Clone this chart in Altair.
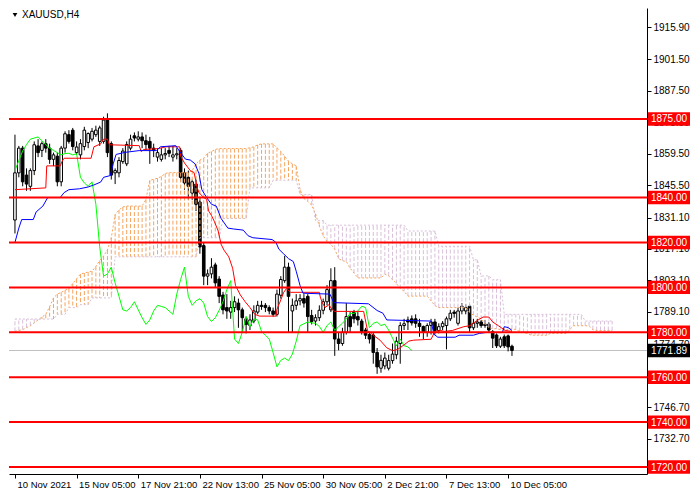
"""XAUUSD H4 in the MT4 style: candles, Ichimoku and support/resistance lines."""

import altair as alt
import pandas as pd

# ------------------------------------------------------------------ styling
FONT = "Liberation Sans"
INK = "#000000"
LEVEL_RED = "#ff0000"
SANDY = "#f4a460"      # Senkou span A / bullish cloud
THISTLE = "#d8bfd8"    # Senkou span B / bearish cloud
W, H = 638, 466

# ------------------------------------------------------------------ axes
DATE_TICKS = [0, 16, 32, 48, 64, 80, 96, 112, 128]
DATE_LABELS = ["10 Nov 2021", "15 Nov 05:00", "17 Nov 21:00", "22 Nov 13:00",
               "25 Nov 05:00", "30 Nov 05:00", "2 Dec 21:00", "7 Dec 13:00",
               "10 Dec 05:00"]
PRICE_TICKS = [1915.90, 1901.50, 1887.50, 1873.50, 1859.50, 1845.50, 1831.10,
               1817.10, 1803.10, 1789.10, 1774.70, 1760.70, 1746.70, 1732.70,
               1718.70]
LEVELS = [1875.0, 1840.0, 1820.0, 1800.0, 1780.0, 1760.0, 1740.0, 1720.0]
LAST_PRICE = [1771.89]
SYMBOL = ["XAUUSD,H4"]

# ------------------------------------------------------------------ candles (H4 bars 0..129)
OPEN = [1830, 1851, 1862, 1850, 1845, 1852, 1863, 1861, 1864, 1862,
        1857, 1858.4, 1847, 1862, 1868, 1870, 1860, 1859, 1862.7, 1864.5,
        1866, 1868, 1865, 1865, 1874.5, 1864, 1851, 1851, 1856, 1855,
        1862, 1867.5, 1866, 1867, 1865.3, 1865, 1862, 1858, 1857, 1859,
        1861, 1858, 1859, 1861, 1851, 1849, 1842, 1846, 1838, 1818.6,
        1805, 1806, 1810, 1803.7, 1796.6, 1791, 1789, 1791, 1793, 1790,
        1786, 1783, 1785, 1789, 1792, 1792, 1791, 1789.5, 1788, 1796.5,
        1803, 1809, 1789.5, 1792, 1794, 1795, 1796, 1787.5, 1785, 1786.5,
        1789.8, 1793.6, 1790, 1803, 1777, 1775, 1780, 1787, 1789, 1787,
        1785, 1781, 1779, 1778.8, 1771, 1764, 1765, 1764, 1767.4, 1770,
        1775, 1783, 1785.5, 1786, 1786, 1784, 1782.6, 1780, 1783, 1784.6,
        1780.8, 1782.5, 1783, 1786, 1789, 1784, 1789.5, 1789.5, 1791.6, 1782,
        1784, 1784.6, 1783, 1783.6, 1780.3, 1778.8, 1773.8, 1778, 1778.4, 1773.8]
HIGH = [1868, 1863, 1863, 1853, 1853, 1865, 1866, 1865, 1866, 1864,
        1860, 1860, 1863, 1869.5, 1870, 1871, 1865, 1866, 1871.5, 1869,
        1871, 1872, 1872, 1876, 1877.5, 1865, 1853, 1858, 1862, 1865,
        1868, 1869, 1869.5, 1869, 1868, 1867, 1864, 1862, 1862, 1862,
        1863, 1863, 1862, 1862, 1853, 1852, 1848, 1848, 1840, 1820,
        1808, 1813, 1811, 1805, 1798, 1797, 1794, 1796, 1795, 1791,
        1787, 1788, 1792, 1794, 1794, 1793, 1792, 1791, 1799, 1805,
        1814, 1811, 1795, 1797, 1797, 1797, 1797, 1790, 1788, 1792,
        1795, 1801, 1808.5, 1809, 1780, 1782, 1793, 1789, 1790, 1789,
        1786, 1782, 1780, 1780, 1773, 1770, 1771, 1770, 1775, 1778,
        1784.5, 1786, 1787, 1787.5, 1788, 1786, 1783, 1784, 1786, 1786,
        1784, 1785, 1787, 1790, 1790, 1791, 1793, 1792.5, 1792.5, 1786,
        1786, 1785.5, 1785.5, 1784.5, 1781, 1779.5, 1778, 1779, 1779, 1774.5]
LOW = [1824, 1849, 1845, 1843, 1843, 1850, 1858, 1858, 1860, 1855,
       1854, 1845, 1845, 1860, 1864, 1861, 1859, 1857, 1861, 1862,
       1865, 1867, 1863, 1864, 1858, 1848, 1846, 1849, 1855, 1854,
       1861, 1865, 1865, 1862, 1861, 1855, 1858, 1856, 1856, 1857,
       1858, 1856, 1857, 1847, 1843.5, 1839, 1839, 1834, 1815, 1801,
       1801, 1804, 1800, 1793, 1788, 1786, 1786, 1789, 1782, 1780,
       1779.5, 1781, 1784, 1788, 1790, 1789, 1788, 1787, 1787, 1795,
       1802, 1780, 1780, 1790, 1792, 1791, 1780, 1783.5, 1783, 1785,
       1788, 1792, 1789, 1769.5, 1772, 1774, 1779, 1780, 1784, 1783,
       1779, 1777, 1775, 1766, 1761.5, 1762, 1763.5, 1763, 1766, 1768,
       1766, 1781, 1781, 1783, 1782, 1778, 1777, 1778, 1779, 1779,
       1779.5, 1781, 1772.4, 1785, 1786.5, 1783, 1788, 1788, 1780, 1781,
       1782, 1782, 1782, 1780, 1773, 1773, 1773, 1773, 1771.5, 1769.5]
CLOSE = [1851, 1862, 1847, 1846, 1852, 1863.5, 1860, 1864, 1862, 1857,
         1859, 1847, 1862, 1868.4, 1865, 1862.7, 1862.5, 1864, 1870, 1868.5,
         1869.5, 1870, 1871, 1874.5, 1860, 1850, 1852, 1856.5, 1860.7, 1863.6,
         1866, 1866.5, 1867, 1865.3, 1863.6, 1862, 1861, 1860, 1859, 1859.6,
         1859.7, 1859, 1859.5, 1849, 1846.5, 1845, 1847, 1837, 1818, 1805,
         1806, 1809, 1802, 1796, 1790, 1789.5, 1791, 1793.6, 1790, 1786.5,
         1783.5, 1785.5, 1789.5, 1792, 1791.5, 1791, 1789.5, 1788, 1797, 1803.5,
         1809, 1796, 1792, 1794, 1795, 1793, 1787, 1784.8, 1786.5, 1789.8,
         1793.6, 1799, 1803, 1777, 1775, 1780, 1787, 1782.5, 1786, 1785.5,
         1780.4, 1778.7, 1777, 1771, 1764.6, 1767.5, 1768.5, 1767.4, 1770.3, 1776,
         1783, 1783.8, 1784.6, 1784.2, 1784, 1782.6, 1780, 1783, 1784.6, 1780.8,
         1782.5, 1784, 1786, 1788.5, 1788.4, 1789.5, 1791.6, 1791, 1782, 1784,
         1784.6, 1783, 1783.6, 1781, 1777.4, 1774, 1777, 1774, 1773.5, 1771.89]

# ------------------------------------------------------------------ Ichimoku
# Tenkan-sen and Kijun-sen corners, (bar, price)
TENKAN_BAR = [0, 8, 8.25, 11.75, 12.25, 12.75, 19.75, 20.5, 22.25, 23, 24, 24.5,
              32.25, 32.75, 33.5, 37.25, 39.25, 42.75, 43, 44, 45.5, 46.5, 47.25,
              47.75, 49, 49.75, 50.25, 51, 51.75, 52.75, 53.5, 54.25, 55.5, 56.5,
              57.25, 58.5, 59.75, 61, 62.25, 63.5, 67.75, 68, 69, 69.75, 70.5,
              71.5, 79, 79.25, 79.75, 80.5, 81.5, 82.25, 83, 90.5, 91.5, 93, 94.75,
              96.5, 98, 99.25, 101, 102.25, 103.5, 108, 109, 110.5, 111.5, 113.5,
              116.5, 118, 119.75, 121.5, 123, 124, 125.5, 127.25, 129]
TENKAN = [1843.5, 1844.3, 1854.1, 1854.1, 1856.2, 1857.5, 1857.5, 1862.6, 1863.9,
          1866.0, 1866.0, 1863.5, 1863.1, 1860.5, 1861.4, 1861.8, 1862.6, 1862.6,
          1858.4, 1855.4, 1852.0, 1851.1, 1844.7, 1842.2, 1840.0, 1839.2, 1834.1,
          1832.0, 1829.4, 1825.1, 1819.2, 1816.6, 1813.6, 1808.5, 1800.8, 1796.6,
          1793.6, 1791.0, 1788.0, 1787.2, 1787.2, 1790.2, 1794.4, 1797.8, 1799.5,
          1797.8, 1797.8, 1795.7, 1793.2, 1791.0, 1792.3, 1790.2, 1789.3, 1789.3,
          1780.8, 1778.7, 1776.5, 1773.1, 1771.8, 1772.3, 1774.4, 1776.1, 1776.5,
          1776.9, 1780.4, 1780.8, 1780.4, 1780.8, 1782.5, 1782.9, 1785.0, 1786.8,
          1786.8, 1784.6, 1782.9, 1780.8, 1780.4]
KIJUN_BAR = [0, 1, 1.75, 4.75, 5.5, 7.25, 8.5, 11.75, 12.75, 14, 16.75, 19, 20.5,
             22.25, 23, 24.75, 25.5, 26.25, 28.5, 32.25, 36.75, 37.75, 41.75,
             42.75, 44.25, 45.5, 46.75, 47.75, 48.5, 49.75, 51, 52.25, 53.5, 55.25,
             56.75, 59.25, 60.5, 61.75, 66.75, 67.75, 68.5, 69.75, 71, 72.25, 73,
             74, 74.75, 81.75, 82.75, 91.75, 94, 95.5, 96.5, 108, 108.75, 109.75,
             114.25, 115.25, 119, 120.5, 122.25, 126.5, 127, 128, 129]
KIJUN = [1820.0, 1826.4, 1830.2, 1830.2, 1833.6, 1836.2, 1840.0, 1840.0, 1842.2,
         1843.5, 1843.9, 1844.7, 1845.6, 1846.9, 1849.0, 1849.8, 1855.0, 1859.2,
         1860.1, 1860.9, 1860.9, 1862.6, 1863.1, 1860.5, 1857.1, 1856.7, 1855.0,
         1850.7, 1843.5, 1840.0, 1837.0, 1836.2, 1830.7, 1826.4, 1826.0, 1825.5,
         1823.0, 1822.1, 1821.3, 1820.0, 1817.0, 1814.9, 1812.8, 1811.5, 1807.2,
         1800.8, 1797.4, 1797.0, 1793.2, 1792.7, 1789.7, 1788.5, 1785.5, 1785.0,
         1779.1, 1777.8, 1777.8, 1778.7, 1778.7, 1779.5, 1779.9, 1779.9, 1782.5,
         1782.1, 1780.8]
# Senkou spans, one value per bar 0..155 (26 bars past the last candle)
SPAN_A = [1780.4, 1780.8, 1781.2, 1782.1, 1782.9, 1784.2, 1785.5, 1786.8, 1788.0, 1791.4,
          1795.3, 1797.0, 1797.8, 1798.7, 1799.5, 1801.7, 1803.8, 1805.9, 1806.4, 1806.8,
          1807.2, 1809.3, 1811.9, 1814.0, 1816.6, 1822.1, 1832.4, 1834.5, 1835.8, 1836.2,
          1836.2, 1836.2, 1836.2, 1836.2, 1839.2, 1847.7, 1848.1, 1848.6, 1849.4, 1850.7,
          1851.1, 1851.1, 1851.1, 1851.1, 1851.1, 1851.1, 1852.0, 1855.0, 1856.7, 1857.5,
          1859.7, 1860.5, 1861.4, 1861.8, 1861.8, 1861.8, 1861.8, 1861.8, 1861.8, 1861.8,
          1861.8, 1862.2, 1862.6, 1863.5, 1863.9, 1863.9, 1863.9, 1863.9, 1862.2, 1860.5,
          1858.4, 1856.2, 1855.0, 1854.1, 1843.5, 1839.6, 1838.3, 1836.6, 1832.8, 1827.3,
          1823.0, 1820.4, 1819.2, 1817.0, 1812.8, 1811.9, 1811.5, 1808.5, 1806.4, 1804.2,
          1804.2, 1804.2, 1804.2, 1804.2, 1804.2, 1804.2, 1805.9, 1805.1, 1803.4, 1801.7,
          1799.5, 1798.3, 1796.1, 1796.1, 1796.1, 1796.1, 1796.1, 1796.1, 1794.0, 1791.9,
          1791.0, 1791.0, 1791.0, 1791.0, 1791.0, 1791.0, 1791.0, 1791.0, 1788.9, 1787.6,
          1786.8, 1785.9, 1783.8, 1782.1, 1781.6, 1781.6, 1781.2, 1780.8, 1781.2, 1781.6,
          1781.2, 1780.4, 1779.9, 1779.5, 1778.7, 1778.7, 1778.7, 1778.7, 1778.7, 1779.5,
          1779.5, 1779.5, 1779.5, 1779.5, 1781.2, 1782.9, 1782.9, 1782.9, 1782.9, 1782.9,
          1781.2, 1780.8, 1780.8, 1780.8, 1780.8, 1780.8]
SPAN_B = [1785.9, 1785.9, 1785.9, 1785.9, 1785.9, 1785.9, 1785.9, 1785.9, 1785.9, 1785.9,
          1785.9, 1788.0, 1788.0, 1788.0, 1791.0, 1791.0, 1791.0, 1792.3, 1792.3, 1792.3,
          1795.3, 1795.3, 1795.3, 1795.3, 1795.3, 1795.3, 1813.6, 1813.6, 1813.6, 1813.6,
          1813.6, 1813.6, 1813.6, 1813.6, 1813.6, 1813.6, 1813.6, 1813.6, 1813.6, 1813.6,
          1813.6, 1813.6, 1813.6, 1813.6, 1813.6, 1813.6, 1813.6, 1813.6, 1822.1, 1822.1,
          1822.1, 1822.1, 1822.1, 1822.1, 1830.7, 1830.7, 1830.7, 1830.7, 1830.7, 1830.7,
          1830.7, 1844.3, 1844.3, 1844.3, 1844.3, 1844.3, 1844.3, 1847.7, 1847.7, 1847.7,
          1847.7, 1847.7, 1847.7, 1847.7, 1841.3, 1841.3, 1841.3, 1841.3, 1829.8, 1829.8,
          1829.8, 1827.7, 1827.7, 1827.7, 1827.7, 1827.7, 1827.7, 1827.7, 1827.7, 1827.7,
          1827.7, 1827.7, 1827.7, 1827.7, 1827.7, 1827.7, 1827.7, 1827.7, 1827.7, 1827.7,
          1827.7, 1827.7, 1825.1, 1825.1, 1825.1, 1825.1, 1825.1, 1825.1, 1825.1, 1825.1,
          1818.3, 1818.3, 1818.3, 1818.3, 1818.3, 1818.3, 1818.3, 1818.3, 1818.3, 1812.3,
          1812.3, 1805.1, 1805.1, 1805.1, 1803.4, 1803.4, 1803.4, 1788.0, 1788.0, 1788.0,
          1788.0, 1788.0, 1788.0, 1788.0, 1788.0, 1788.0, 1788.0, 1788.0, 1788.0, 1788.0,
          1788.0, 1788.0, 1788.0, 1788.0, 1788.0, 1788.0, 1788.0, 1788.0, 1785.0, 1785.0,
          1785.0, 1785.0, 1785.0, 1785.0, 1785.0, 1785.0]
CHIKOU_SHIFT = 26

# ------------------------------------------------------------------ tables
candles = pd.DataFrame({"bar": range(len(CLOSE)), "open": OPEN, "high": HIGH,
                        "low": LOW, "close": CLOSE})
cloud = pd.DataFrame({"bar": range(len(SPAN_A)), "a": SPAN_A, "b": SPAN_B})
tenkan = pd.DataFrame({"bar": TENKAN_BAR, "p": TENKAN})
kijun = pd.DataFrame({"bar": KIJUN_BAR, "p": KIJUN})
levels = pd.DataFrame({"p": LEVELS})
last = pd.DataFrame({"p": LAST_PRICE})

XS = alt.Scale(domain=[-0.25, 162.75], nice=False, zero=False)
YS = alt.Scale(domain=[1716.9, 1924.4], nice=False, zero=False)

label_js = "[" + ",".join(f"'{s}'" for s in DATE_LABELS) + "]"
X_AXIS = alt.Axis(values=DATE_TICKS, labelExpr=f"{label_js}[round(datum.value / 16)]",
                  title=None, grid=False, labelAlign="left", labelOffset=2,
                  labelPadding=1, tickSize=4, tickColor=INK, domainColor=INK,
                  labelColor=INK, labelFont=FONT, labelFontSize=9.5, labelFlush=False,
                  labelOverlap=False)
Y_AXIS = alt.Axis(values=PRICE_TICKS, format=".2f", orient="right", title=None,
                  grid=False, tickSize=4, labelPadding=2, tickColor=INK,
                  domainColor=INK, labelColor=INK, labelFont=FONT, labelFontSize=10,
                  labelOverlap=False)


# every layer carries the same scale + axis so the merged axes stay intact
def qx(field):
    return alt.X(field, type="quantitative", scale=XS, axis=X_AXIS)


def qy(field):
    return alt.Y(field, type="quantitative", scale=YS, axis=Y_AXIS)


price_line = alt.Chart(last).mark_rule(color="#c0c0c0", strokeWidth=1).encode(y=qy("p"))

wicks = alt.Chart(candles).mark_rule(color=INK, strokeWidth=1, clip=True).encode(
    x=qx("bar"), y=qy("low"), y2="high:Q",
)
bodies = alt.Chart(candles).mark_bar(size=2.6, stroke=INK, strokeWidth=1, clip=True).encode(
    x=qx("bar"), y=qy("open"), y2="close:Q",
    fill=alt.condition("datum.close >= datum.open", alt.value("#ffffff"), alt.value(INK)),
)

# cloud: one dotted vertical hatch per bar between the spans
hatch = alt.Chart(cloud).mark_rule(strokeWidth=1, strokeDash=[4, 2], clip=True).encode(
    x=qx("bar"), y=qy("a"), y2="b:Q",
    color=alt.condition("datum.a >= datum.b", alt.value(SANDY), alt.value(THISTLE)),
)
span_a = alt.Chart(cloud).mark_line(color=SANDY, strokeWidth=1, strokeDash=[2, 2],
                                    clip=True).encode(x=qx("bar"), y=qy("a"))
span_b = alt.Chart(cloud).mark_line(color=THISTLE, strokeWidth=1, strokeDash=[2, 2],
                                    clip=True).encode(x=qx("bar"), y=qy("b"))

chikou = alt.Chart(candles).transform_filter(
    f"datum.bar >= {CHIKOU_SHIFT}"
).transform_calculate(
    lag=f"datum.bar - {CHIKOU_SHIFT}"
).mark_line(color="#00ff00", strokeWidth=1, clip=True).encode(x=qx("lag"), y=qy("close"))

tenkan_line = alt.Chart(tenkan).mark_line(color="#ff0000", strokeWidth=1, clip=True).encode(
    x=qx("bar"), y=qy("p"))
kijun_line = alt.Chart(kijun).mark_line(color="#0000ff", strokeWidth=1, clip=True).encode(
    x=qx("bar"), y=qy("p"))

# horizontal levels with their price tags on the right scale
level_rules = alt.Chart(levels).mark_rule(color=LEVEL_RED, strokeWidth=2).encode(y=qy("p"))


def price_tag(df, fill):
    box = alt.Chart(df).transform_calculate(
        lo="datum.p - 3.0", hi="datum.p + 3.0"
    ).mark_rect(color=fill).encode(
        x=alt.value(W + 1), x2=alt.value(W + 43), y=qy("lo"), y2="hi:Q")
    txt = alt.Chart(df).mark_text(
        color="#ffffff", font=FONT, fontSize=10, align="center", baseline="middle", dy=0.5
    ).encode(x=alt.value(W + 22), y=qy("p"), text=alt.Text("p:Q", format=".2f"))
    return box + txt


symbol_df = pd.DataFrame({"t": SYMBOL})
marker = alt.Chart(symbol_df).mark_point(shape="triangle-down", filled=True, color=INK,
                                         size=22, opacity=1).encode(
    x=alt.value(6), y=alt.value(7))
symbol = alt.Chart(symbol_df).mark_text(font=FONT, fontSize=10, color=INK, align="left",
                                        baseline="middle").encode(
    x=alt.value(13), y=alt.value(7), text="t:N")

chart = alt.layer(
    price_line, wicks, bodies, hatch, span_a, span_b, chikou, tenkan_line, kijun_line,
    level_rules, price_tag(levels, LEVEL_RED), price_tag(last, INK), marker, symbol,
).properties(
    width=W, height=H, background="#ffffff", padding=0,
).configure_view(strokeOpacity=0)

chart.save("out.html", embed_options={"renderer": "svg", "actions": False})
